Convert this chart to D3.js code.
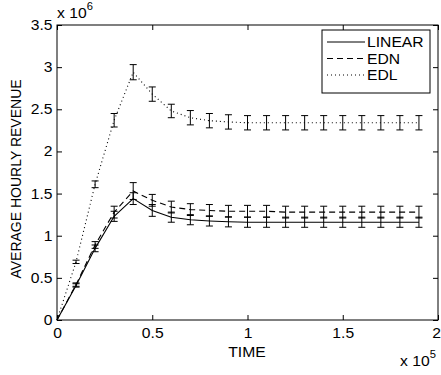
<!DOCTYPE html>
<html><head><meta charset="utf-8">
<script src="https://cdn.jsdelivr.net/npm/d3@7"></script>
<style>body{margin:0;background:#fff}svg{display:block}text{font-family:"Liberation Sans",Arial,sans-serif;fill:#000}</style>
</head><body>
<script>
const times = [0,0.1,0.2,0.3,0.4,0.5,0.6,0.7,0.8,0.9,1.0,1.1,1.2,1.3,1.4,1.5,1.6,1.7,1.8,1.9];
const linearVals = [0,0.41,0.85,1.23,1.44,1.30,1.22,1.19,1.175,1.165,1.16,1.16,1.16,1.16,1.16,1.16,1.16,1.16,1.16,1.16];
const linearErr  = [0,0.02,0.04,0.06,0.07,0.07,0.06,0.06,0.06,0.06,0.06,0.06,0.06,0.06,0.06,0.06,0.06,0.06,0.06,0.06];
const ednVals = [0,0.42,0.89,1.28,1.53,1.42,1.34,1.31,1.30,1.29,1.29,1.29,1.28,1.28,1.28,1.28,1.28,1.28,1.28,1.28];
const ednErr  = [0,0.02,0.04,0.07,0.10,0.07,0.07,0.07,0.07,0.07,0.07,0.07,0.07,0.07,0.07,0.07,0.07,0.07,0.07,0.07];
const edlVals = [0,0.69,1.61,2.37,2.94,2.68,2.48,2.40,2.365,2.35,2.34,2.34,2.34,2.34,2.34,2.34,2.34,2.34,2.34,2.34];
const edlErr  = [0,0.02,0.04,0.08,0.09,0.085,0.08,0.085,0.085,0.085,0.085,0.085,0.085,0.085,0.085,0.085,0.085,0.085,0.085,0.085];
const xTicks = [0,0.5,1,1.5,2];
const yTicks = [0,0.5,1,1.5,2,2.5,3,3.5];
const seriesNames = ["LINEAR","EDN","EDL"];
const dashes = [null,"6,4","1,3"];

const W=441,H=375;
const L=57,R=438,T=25,B=320;
const FS=14, SX=1.12;
const svg=d3.select("body").append("svg").attr("width",W).attr("height",H);
const x=d3.scaleLinear().domain([0,2]).range([L,R]);
const y=d3.scaleLinear().domain([0,3.5]).range([B,T]);

const series=[
 {name:seriesNames[0],v:linearVals,e:linearErr,dash:dashes[0]},
 {name:seriesNames[1],v:ednVals,e:ednErr,dash:dashes[1]},
 {name:seriesNames[2],v:edlVals,e:edlErr,dash:dashes[2]}
];
const line=d3.line().x((d,i)=>x(times[i])).y(d=>y(d));
const cap=3.5;
series.forEach(s=>{
  svg.append("path").attr("d",line(s.v)).attr("fill","none").attr("stroke","#000")
   .attr("stroke-width",1.1).attr("stroke-dasharray",s.dash);
  const g=svg.append("g").attr("stroke","#000").attr("stroke-width",1).attr("fill","none");
  s.v.forEach((v,i)=>{
    if(!s.e[i]) return;
    const cx=x(times[i]), y1=y(v+s.e[i]), y2=y(v-s.e[i]);
    g.append("line").attr("x1",cx).attr("x2",cx).attr("y1",y1).attr("y2",y2);
    g.append("line").attr("x1",cx-cap).attr("x2",cx+cap).attr("y1",y1).attr("y2",y1);
    g.append("line").attr("x1",cx-cap).attr("x2",cx+cap).attr("y1",y2).attr("y2",y2);
  });
});

// axes (MATLAB style box with inward ticks)
const fmt=d=>String(d);
const gx=svg.append("g").attr("transform",`translate(0,${B})`)
 .call(d3.axisBottom(x).tickValues(xTicks).tickFormat(fmt).tickSizeInner(-5).tickSizeOuter(0).tickPadding(8));
const gy=svg.append("g").attr("transform",`translate(${L},0)`)
 .call(d3.axisLeft(y).tickValues(yTicks).tickFormat(fmt).tickSizeInner(-5).tickSizeOuter(0).tickPadding(4));
const gt=svg.append("g").attr("transform",`translate(0,${T})`)
 .call(d3.axisTop(x).tickValues(xTicks).tickFormat("").tickSizeInner(-5).tickSizeOuter(0));
const gr=svg.append("g").attr("transform",`translate(${R},0)`)
 .call(d3.axisRight(y).tickValues(yTicks).tickFormat("").tickSizeInner(-5).tickSizeOuter(0));
[gx,gy,gt,gr].forEach(g=>{
  g.select(".domain").remove();
  g.selectAll("line").attr("stroke","#000");
  g.selectAll("text").attr("font-size",FS).attr("font-family","Liberation Sans, Arial, sans-serif")
   .attr("fill","#000").attr("transform",`scale(${SX},1)`);
});
// keep the last x tick label inside the window
gx.selectAll(".tick text").filter(d=>d===2).attr("transform",`translate(-2,0) scale(${SX},1)`);
svg.append("rect").attr("x",L).attr("y",T).attr("width",R-L).attr("height",B-T)
 .attr("fill","none").attr("stroke","#000").attr("stroke-width",1);

function htext(px,py,anchor){
  return svg.append("text").attr("transform",`translate(${px},${py}) scale(${SX},1)`)
   .attr("text-anchor",anchor||"start").attr("font-size",FS);
}
// multipliers
const m1=htext(57,18);
m1.append("tspan").text("x 10");
m1.append("tspan").attr("dy",-8).attr("font-size",10).text("6");
const m2=htext(400,366);
m2.append("tspan").text("x 10");
m2.append("tspan").attr("dy",-8).attr("font-size",10).text("5");

htext(247,357,"middle").text("TIME");
svg.append("text").attr("transform","translate(21,179) rotate(-90)").attr("text-anchor","middle")
 .attr("font-size",FS).text("AVERAGE HOURLY REVENUE");

// legend
const lg=svg.append("g");
lg.append("rect").attr("x",322).attr("y",30).attr("width",108).attr("height",63)
 .attr("fill","#fff").attr("stroke","#000").attr("stroke-width",1);
series.forEach((s,i)=>{
  const ly=42+i*16.5;
  lg.append("line").attr("x1",327).attr("x2",365).attr("y1",ly).attr("y2",ly)
   .attr("stroke","#000").attr("stroke-width",1).attr("stroke-dasharray",s.dash);
  htext(367,ly+5).text(s.name);
});
</script>
</body></html>
